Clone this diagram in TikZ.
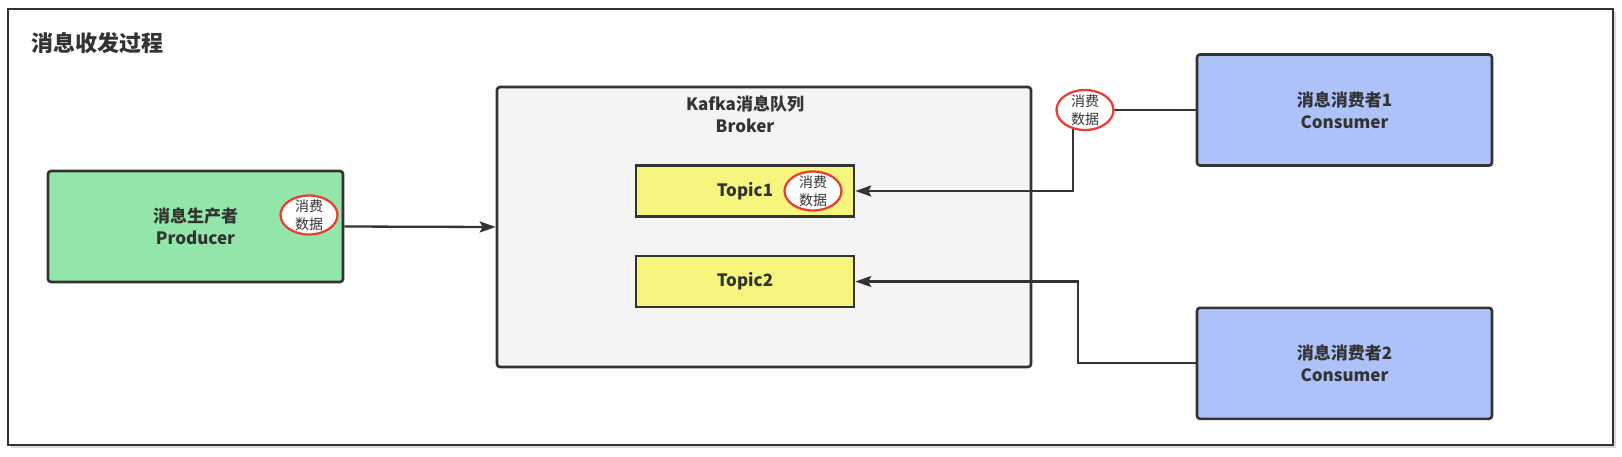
\documentclass[tikz,border=0pt]{standalone}
\usepackage{fontspec}
\setmainfont{Noto Sans CJK SC}
\usetikzlibrary{arrows.meta,shapes.geometric}
\definecolor{linec}{HTML}{333333}
\definecolor{txtc}{HTML}{333333}
\definecolor{greenf}{HTML}{93E6A9}
\definecolor{bluef}{HTML}{ADC2F9}
\definecolor{yellowf}{HTML}{F6F67E}
\definecolor{grayf}{HTML}{F4F4F4}
\definecolor{redc}{HTML}{EA4034}
\tikzset{
  boxstyle/.style={draw=linec, line width=2.6pt, rounded corners=3pt, inner sep=0pt,
    font=\bfseries\fontsize{17}{22}\selectfont, text=txtc, align=center},
  topicbox/.style={boxstyle, rounded corners=0pt, fill=yellowf, minimum width=218pt, minimum height=51pt},
  consbox/.style={boxstyle, fill=bluef, minimum width=295pt, minimum height=111pt},
  conn/.style={draw=linec, line width=2.3pt},
  arr/.style={-{Stealth[length=16pt,width=11pt,inset=3pt]}},
  ellmark/.style={ellipse, draw=redc, line width=2.3pt, fill=white, inner sep=0pt,
    minimum width=57pt, minimum height=39pt,
    label={[font=\fontsize{14}{18}\selectfont, text=txtc, align=center, inner sep=0pt]center:{消费\\数据}}},
}
\begin{document}
\begin{tikzpicture}[x=1pt,y=-1pt]
\useasboundingbox (0,0) rectangle (1622,456);
\fill[white] (0,0) rectangle (1622,456);
% outer frame with light shadow
\fill[black!15] (11,12) rectangle (1616,448);
\node[draw=linec, line width=2.4pt, fill=white, inner sep=0pt, minimum width=1605pt, minimum height=436pt] (frame) at (810.5,227) {};
\node[anchor=west, font=\bfseries\fontsize{22}{26}\selectfont, text=txtc, inner sep=0pt] (title) at (31,43) {消息收发过程};

% broker
\node[boxstyle, fill=grayf, minimum width=534pt, minimum height=280pt] (broker) at (764,227) {};
\node[font=\bfseries\fontsize{17}{22}\selectfont, text=txtc, align=center, inner sep=0pt] (brokertitle) at (745,114) {Kafka消息队列\\Broker};
\node[topicbox] (t1) at (745,191) {Topic1};
\node[topicbox] (t2) at (745,281.5) {Topic2};

% producer and consumers
\node[boxstyle, fill=greenf, minimum width=295pt, minimum height=111pt] (prod) at (195.5,226.5) {消息生产者\\Producer};
\node[consbox] (c1) at (1344.5,110) {消息消费者1\\Consumer};
\node[consbox] (c2) at (1344.5,363.3) {消息消费者2\\Consumer};

% connectors
\coordinate (k1a) at (1073.3,110);
\coordinate (k1b) at (1073.3,191);
\coordinate (k2a) at (1078.3,363.3);
\coordinate (k2b) at (1078.3,281.5);
\draw[conn,arr] (prod.east) -- (broker.west);
\draw[conn,arr] (c1.west) -- (k1a) -- (k1b) -- (t1.east);
\draw[conn,arr] (c2.west) -- (k2a) -- (k2b) -- (t2.east);

% "消费数据" marks
\node[ellmark] (ep) at (309,215) {};
\node[ellmark] (et) at (813,191) {};
\node[ellmark, minimum height=40pt] (ec) at (1085,110) {};
\end{tikzpicture}
\end{document}
